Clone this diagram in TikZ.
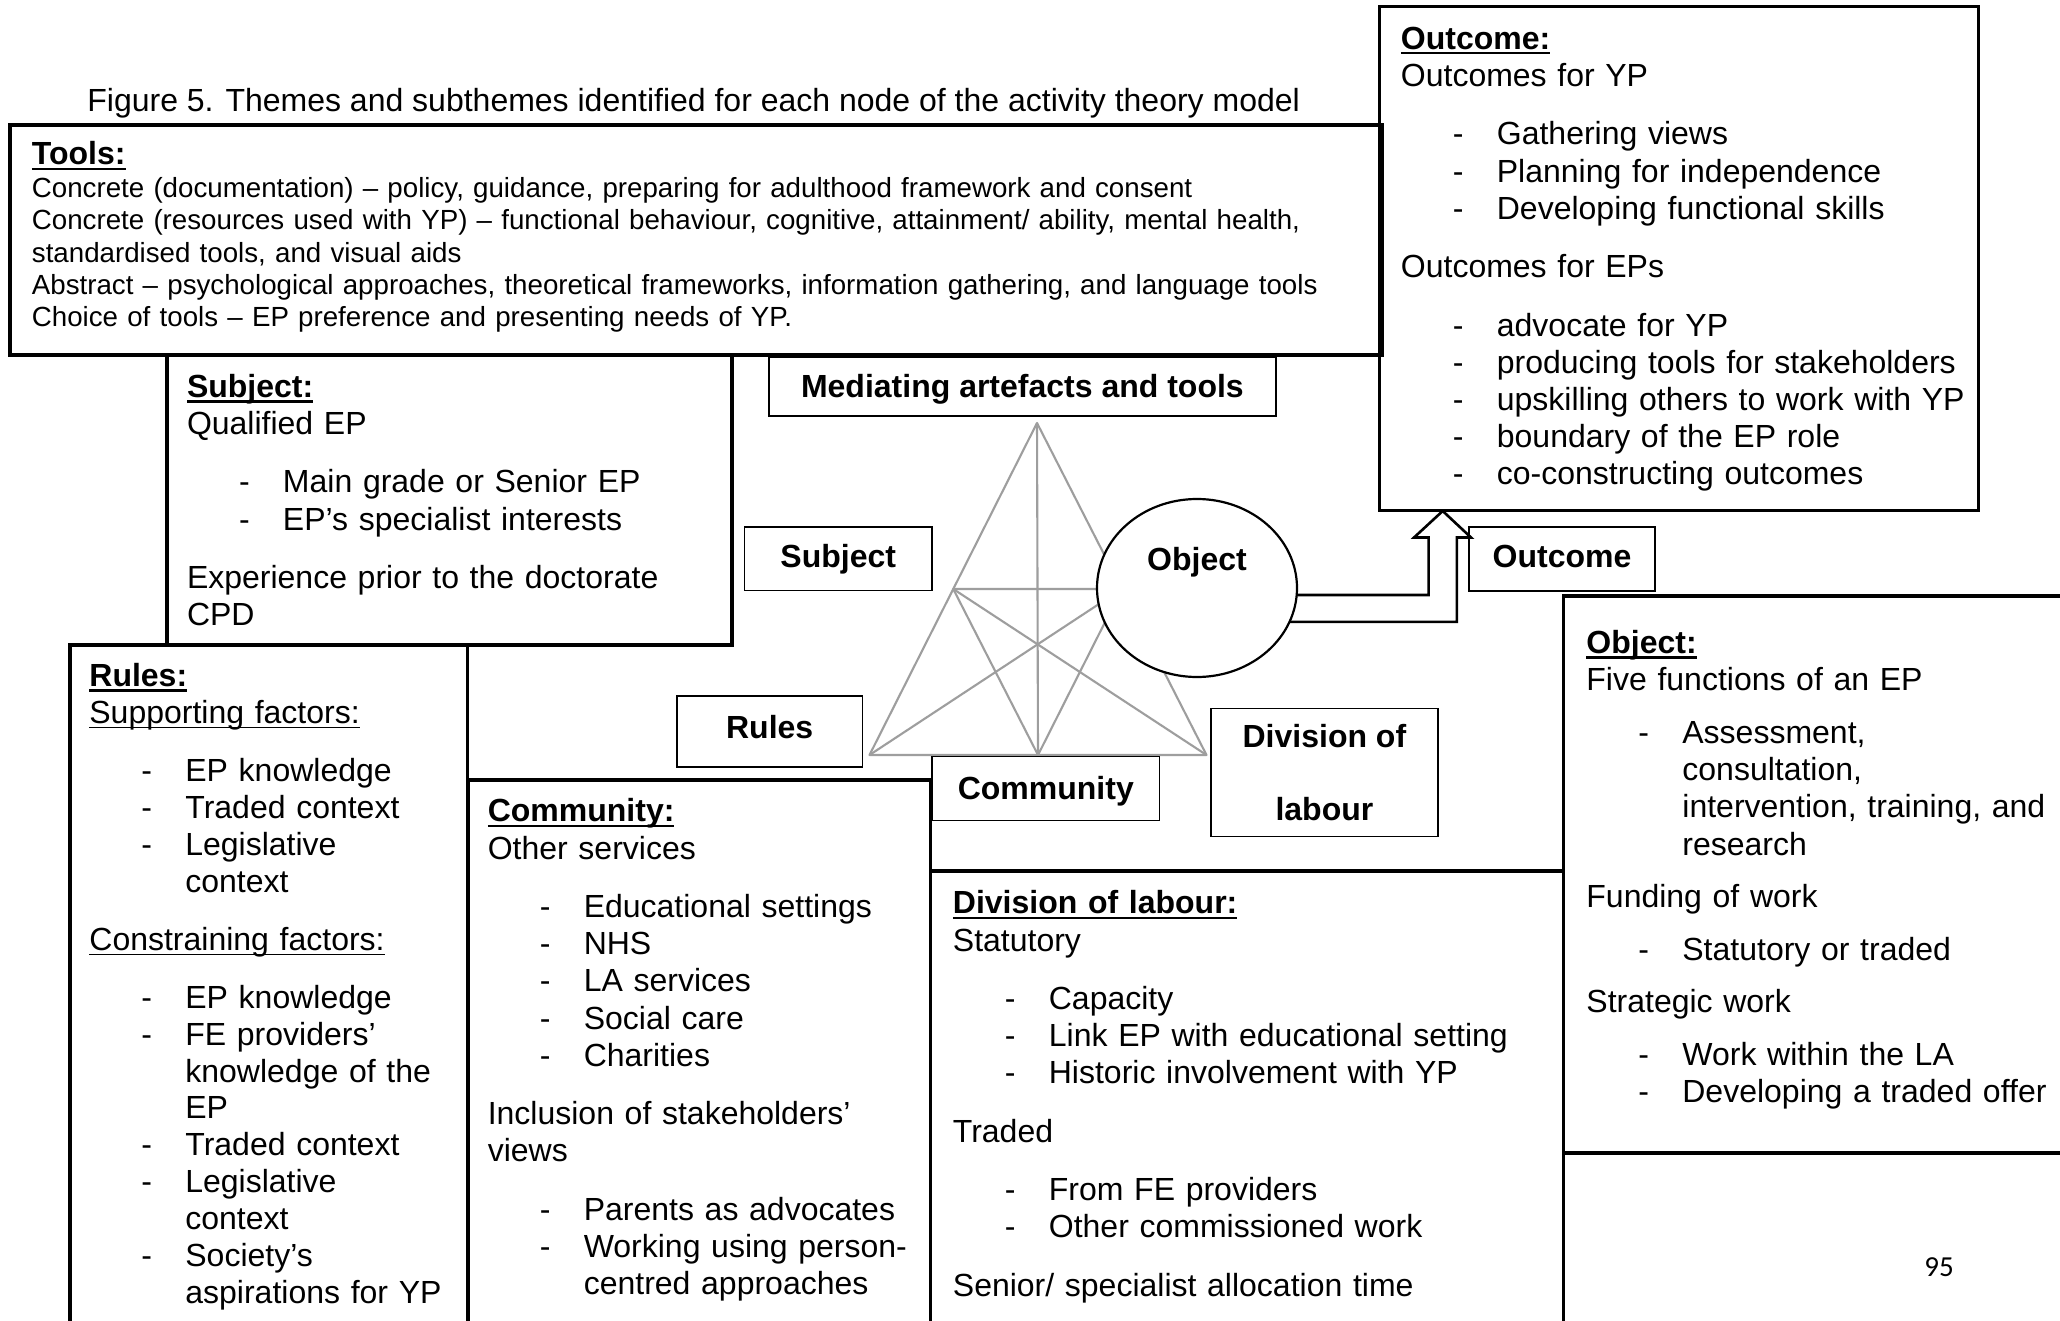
\documentclass[tikz,border=0pt]{standalone}
\usepackage{fontspec}
\setmainfont{Liberation Sans}
\newfontfamily\pgnumfont{Carlito}
\usetikzlibrary{calc,shapes.geometric}

\newcommand\hdr[1]{\leavevmode\setbox0\hbox{\bfseries #1}\rlap{\rule[-2.6pt]{\wd0}{1.3pt}}\box0}
\newcommand\uln[1]{\leavevmode\setbox0\hbox{#1}\rlap{\rule[-2.6pt]{\wd0}{0.8pt}}\box0}
\newcommand\itm[1]{\leavevmode\hspace*{26pt}\makebox[22pt][l]{-}#1}
\newcommand\cnt[1]{\leavevmode\hspace*{48pt}#1}
\newcommand\gp{\\[10.6pt]}
\newcommand\gq{\\[7.7pt]}

\tikzset{
  bigbox/.style={draw, line width=1.6pt},
  lab/.style={draw, line width=0.7pt, fill=white, inner sep=0pt, align=center,
              font=\bfseries\fontsize{16}{19}\selectfont},
  labtxt/.style={inner sep=0pt, font=\bfseries\fontsize{16}{19}\selectfont},
  body/.style={anchor=base west, inner sep=0pt, text width=#1, align=left,
               font=\fontsize{16}{18.6}\selectfont},
  body/.default=280pt,
  tri/.style={draw=black!38, line width=1.05pt, line join=round},
  blockarrow/.style={draw, line width=1.3pt, fill=white, line join=miter},
}

\begin{document}
\begin{tikzpicture}[x=0.5pt,y=-0.5pt]
\useasboundingbox (0,0) rectangle (2060,1321);
\fill[white] (0,0) rectangle (2060,1321);

% caption
\node[anchor=base west, inner sep=0pt, font=\fontsize{16}{19}\selectfont] (caption) at (87,112)
  {Figure 5. Themes and subthemes identified for each node of the activity theory model};

% big boxes
\draw[bigbox] (10,125) rectangle (1382,355);
\draw[bigbox] (1379.5,6.5) rectangle (1978.5,510.5);
\draw[bigbox] (167,355) rectangle (732,645);
\draw[bigbox] (70,645) rectangle (467.5,1345);
\draw[bigbox] (468.5,780) rectangle (930.5,1345);
\draw[bigbox] (930.5,871) rectangle (1563.5,1345);
\draw[bigbox] (1563.5,596) rectangle (2085,1153);

% tools text
\node[body=690pt, font=\fontsize{13.85}{16.2}\selectfont] (toolstxt) at (31.5,165)
  {{\fontsize{16}{16.2}\selectfont\hdr{Tools:}}\\
   Concrete (documentation) – policy, guidance, preparing for adulthood framework and consent\\
   Concrete (resources used with YP) – functional behaviour, cognitive, attainment/ ability, mental health,\\
   standardised tools, and visual aids\\
   Abstract – psychological approaches, theoretical frameworks, information gathering, and language tools\\
   Choice of tools – EP preference and presenting needs of YP.};

% outcome text
\node[body=300pt] (outtxt) at (1400.5,49.3)
  {\hdr{Outcome:}\\
   Outcomes for YP\gp
   \itm{Gathering views}\\
   \itm{Planning for independence}\\
   \itm{Developing functional skills}\gp
   Outcomes for EPs\gp
   \itm{advocate for YP}\\
   \itm{producing tools for stakeholders}\\
   \itm{upskilling others to work with YP}\\
   \itm{boundary of the EP role}\\
   \itm{co-constructing outcomes}};

% subject text
\node[body] (subjtxt) at (186.6,397.3)
  {\hdr{Subject:}\\
   Qualified EP\gp
   \itm{Main grade or Senior EP}\\
   \itm{EP’s specialist interests}\gp
   Experience prior to the doctorate\\
   CPD};

% rules text
\node[body=190pt, font=\fontsize{16}{18.45}\selectfont] (rulestxt) at (89,686.3)
  {\hdr{Rules:}\\
   \uln{Supporting factors:}\gp
   \itm{EP knowledge}\\
   \itm{Traded context}\\
   \itm{Legislative}\\
   \cnt{context}\gp
   \uln{Constraining factors:}\gp
   \itm{EP knowledge}\\
   \itm{FE providers’}\\
   \cnt{knowledge of the}\\
   \cnt{EP}\\
   \itm{Traded context}\\
   \itm{Legislative}\\
   \cnt{context}\\
   \itm{Society’s}\\
   \cnt{aspirations for YP}};

% community text
\node[body=225pt] (commtxt) at (487.4,821.9)
  {\hdr{Community:}\\
   Other services\gp
   \itm{Educational settings}\\
   \itm{NHS}\\
   \itm{LA services}\\
   \itm{Social care}\\
   \itm{Charities}\gp
   Inclusion of stakeholders’\\
   views\gp
   \itm{Parents as advocates}\\
   \itm{Working using person-}\\
   \cnt{centred approaches}};

% division text
\node[body=300pt] (divtxt) at (952.5,913.9)
  {\hdr{Division of labour:}\\
   Statutory\gp
   \itm{Capacity}\\
   \itm{Link EP with educational setting}\\
   \itm{Historic involvement with YP}\gp
   Traded\gp
   \itm{From FE providers}\\
   \itm{Other commissioned work}\gp
   Senior/ specialist allocation time};

% object text
\node[body=245pt] (objtxt) at (1586,653.7)
  {\hdr{Object:}\\
   Five functions of an EP\gq
   \itm{Assessment,}\\
   \cnt{consultation,}\\
   \cnt{intervention, training, and}\\
   \cnt{research}\gq
   Funding of work\gq
   \itm{Statutory or traded}\gq
   Strategic work\gq
   \itm{Work within the LA}\\
   \itm{Developing a traded offer}};

% page number
\node[anchor=base, inner sep=0pt, font=\pgnumfont\fontsize{14.5}{17}\selectfont] (pg) at (1939,1276) {95};

% activity triangle
\coordinate (A) at (1037,423);
\coordinate (BL) at (869.5,755);
\coordinate (BR) at (1206.5,755);
\coordinate (ML) at ($(A)!0.5!(BL)$);
\coordinate (MR) at ($(A)!0.5!(BR)$);
\coordinate (MB) at ($(BL)!0.5!(BR)$);
\draw[tri] (A) -- (BL) -- (BR) -- cycle;
\draw[tri] (ML) -- (MR) -- (MB) -- cycle;
\draw[tri] (A) -- (MB);
\draw[tri] (BL) -- (MR);
\draw[tri] (BR) -- (ML);

% label boxes
\node[lab, minimum width=253.4pt, minimum height=29.5pt, text height=14.4pt] (medL) at (1022.4,386.5) {Mediating artefacts and tools};
\node[lab, minimum width=93.75pt, minimum height=31.85pt] (subjL) at (838.2,558.9) {Subject};
\node[lab, minimum width=92.7pt, minimum height=35.5pt, text depth=5pt] (rulesL) at (769.7,731.5) {Rules};
\node[lab, minimum width=113.8pt, minimum height=32pt, text depth=1pt] (commL) at (1045.8,788.7) {Community};
\node[lab, minimum width=113.4pt, minimum height=64pt, font=\bfseries\fontsize{16}{36.5}\selectfont] (divL) at (1324.4,772.5) {Division of\\labour};
\node[lab, minimum width=93pt, minimum height=32pt, text depth=2.6pt] (outL) at (1562,559) {Outcome};

% block arrow from Object to Outcome
\node[ellipse, minimum width=100pt, minimum height=89pt, inner sep=0pt] (obj) at (1197,588) {};
\coordinate (tip) at (1442.7,511);
\draw[blockarrow]
  (obj.356) -- ($(obj.356 -| tip)+(-14.1,0)$) -- ($(tip)+(-14.1,26.5)$) -- ($(tip)+(-28.7,26.5)$)
  -- (tip) -- ($(tip)+(28.3,26.5)$) -- ($(tip)+(14.1,26.5)$) -- ($(obj.340 -| tip)+(14.1,0)$)
  -- (obj.340);
\node[draw, ellipse, line width=1.1pt, fill=white, minimum width=100pt, minimum height=89pt, inner sep=0pt] (objE) at (obj.center) {};
\node[labtxt] (objT) at ($(obj.center)+(0,-25.5)$) {Object};
\end{tikzpicture}
\end{document}
